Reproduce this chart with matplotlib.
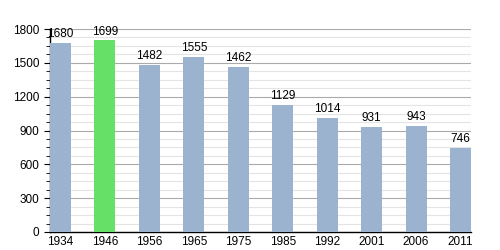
import matplotlib.pyplot as plt
from matplotlib.ticker import MultipleLocator

plt.rcParams["font.family"] = ["Liberation Sans", "DejaVu Sans"]

years = ["1934", "1946", "1956", "1965", "1975", "1985", "1992", "2001", "2006", "2011"]
population = [1680, 1699, 1482, 1555, 1462, 1129, 1014, 931, 943, 746]
highlight = "1946"

colors = ["#66e066" if y == highlight else "#9bb3cf" for y in years]
x = range(len(years))

fig = plt.figure(figsize=(5, 2.5), dpi=100)
ax = fig.add_axes([0.1, 0.072, 0.842, 0.812])

ax.bar(x, population, width=0.47, color=colors, zorder=3)
for xi, v in zip(x, population):
    ax.text(xi, v + 25, str(v), ha="center", va="bottom", fontsize=8.5, zorder=4)

ax.set_xlim(-0.235, len(years) - 1 + 0.235)
ax.set_ylim(0, 1800)
ax.set_xticks(list(x))
ax.set_xticklabels(years)
ax.yaxis.set_major_locator(MultipleLocator(300))
ax.yaxis.set_minor_locator(MultipleLocator(75))
ax.grid(axis="y", which="major", color="#aaaaaa", linewidth=0.8, zorder=0)
ax.grid(axis="y", which="minor", color="#e4e4e4", linewidth=0.8, zorder=0)

for s in ["top", "right"]:
    ax.spines[s].set_visible(False)
ax.spines["left"].set_linewidth(1.0)
ax.spines["bottom"].set_linewidth(1.0)
ax.tick_params(axis="x", length=0, labelsize=8.5, pad=3)
ax.tick_params(axis="y", which="major", length=4, labelsize=8.5)
ax.tick_params(axis="y", which="minor", length=3)

fig.savefig("out.png", dpi=100)
